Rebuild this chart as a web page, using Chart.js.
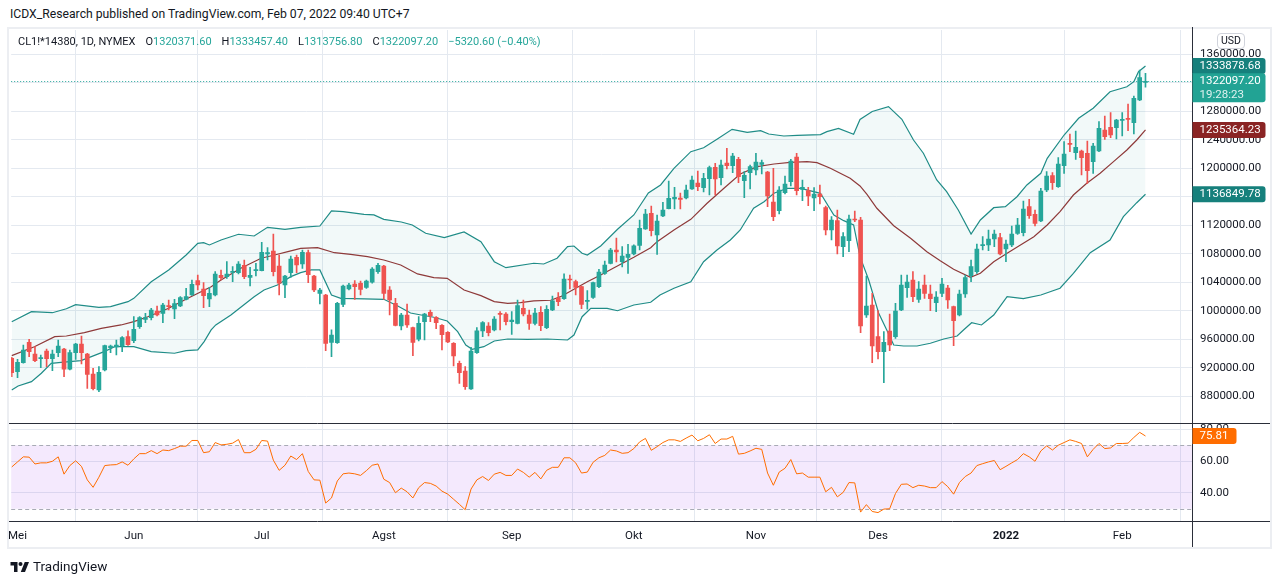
<!DOCTYPE html>
<html>
<head>
<meta charset="utf-8">
<script src="https://cdn.jsdelivr.net/npm/chart.js@4.4.0/dist/chart.umd.min.js"></script>
<style>
  html, body { margin: 0; padding: 0; background: #ffffff; }
  body { width: 1280px; height: 584px; position: relative; overflow: hidden;
         font-family: Roboto, "Noto Sans", sans-serif; color: #131722; }
  #title { position: absolute; left: 10px; top: 6px; font-size: 12.2px; line-height: 16px; white-space: nowrap; }
  #frame { position: absolute; left: 7px; top: 27px; width: 1261px; height: 518px; border: 2px solid #eceef2; }
  #wrap { position: absolute; left: 9px; top: 0; width: 1262px; height: 584px; overflow: hidden; }
  #wrap canvas { position: absolute; left: -9px; top: 0; }
  #legend { position: absolute; left: 18px; top: 34px; font-size: 11px; line-height: 16px; white-space: nowrap; }
  #legend .v { color: #26a69a; }
  #legend .g { display: inline-block; width: 10px; }
  #usd { position: absolute; left: 1217px; top: 33px; width: 26px; height: 14px; border: 1px solid #d1d4dc;
         border-radius: 4px; font-size: 10.5px; line-height: 14px; text-align: center; background: #fff; }
  #footer { position: absolute; left: 10px; top: 558px; height: 16px; font-size: 13.5px; line-height: 16px; white-space: nowrap; }
  #footer svg { vertical-align: -2px; margin-right: 4px; }
</style>
</head>
<body>
<div id="title">ICDX_Research published on TradingView.com, Feb 07, 2022 09:40 UTC+7</div>
<div id="frame"></div>
<div id="wrap"><canvas id="chart" width="1280" height="584"></canvas></div>
<div id="legend">CL1!*14380, 1D, NYMEX<span class="g"></span>O<span class="v">1320371.60</span><span class="g"></span>H<span class="v">1333457.40</span><span class="g"></span>L<span class="v">1313756.80</span><span class="g"></span>C<span class="v">1322097.20</span><span class="g"></span><span class="v">−5320.60 (−0.40%)</span></div>
<div id="usd">USD</div>
<div id="footer"><svg width="19" height="13" viewBox="0 0 36 26"><path d="M14 24H7V11H0V4h14v20zM29 24h-8.5l8-20H37l-8 20z" fill="#131722"/><circle cx="20" cy="8" r="4" fill="#131722"/></svg>TradingView</div>

<script>
// daily bars, Apr 30 2021 .. Feb 7 2022 (index = bar number)
const opens = [
  933300, 914600, 927200, 955700, 939400, 932800, 943600, 932800, 941200, 946400,
  917900, 941200, 953400, 939400, 911300, 888900, 916900, 948300, 949200, 951100,
  963700, 958100, 977700, 988000, 990400, 999700, 996400, 1007200, 1002500, 1006700,
  1016100, 1022200, 1042300, 1030600, 1016600, 1022200, 1049800, 1047900, 1054000, 1053500,
  1063800, 1047000, 1056300, 1056300, 1079700, 1083900, 1062900, 1036200, 1053500, 1075000,
  1065700, 1081600, 1048800, 1024500, 1022200, 955700, 955300, 1009100, 1030600, 1037600,
  1038600, 1032900, 1040000, 1054900, 1062900, 1029200, 1010500, 978700, 994100, 976300,
  960000, 984800, 997900, 990800, 979600, 969800, 954300, 926300, 915500, 890300,
  941200, 971700, 978700, 973100, 996400, 995500, 984800, 982400, 1003500, 994100,
  982400, 997900, 976300, 1001100, 1017500, 1017000, 1044200, 1040900, 1033900, 1013300,
  1018900, 1033900, 1052600, 1066600, 1085300, 1069000, 1075000, 1079700, 1091900, 1114800,
  1136800, 1106400, 1133000, 1143300, 1156900, 1158300, 1158300, 1170900, 1179400, 1172800,
  1185400, 1201300, 1186800, 1207400, 1203700, 1212600, 1182600, 1193900, 1197600, 1205600,
  1194800, 1152700, 1140500, 1165800, 1181200, 1215900, 1170500, 1168600, 1158300, 1163900,
  1144700, 1113400, 1126500, 1090000, 1098400, 1128800, 1127400, 994100, 1008100, 963700,
  942600, 971600, 963700, 1001100, 1032500, 1043200, 1016100, 1036200, 1023600, 1011400,
  1024500, 1032000, 1005800, 994100, 1023600, 1049300, 1054900, 1091400, 1092300, 1100800,
  1102600, 1086700, 1092300, 1108700, 1109600, 1146100, 1135400, 1126000, 1169500, 1189600,
  1174200, 1203700, 1235000, 1221900, 1224300, 1221000, 1209300, 1224300, 1253700, 1257500,
  1257000, 1267300, 1270100, 1264000, 1295800, 1320371.6
];
const highs = [
  934700, 931900, 952000, 960000, 949700, 938000, 946400, 945000, 959000, 947300,
  945000, 954300, 964600, 940300, 919300, 921600, 952000, 952000, 959000, 963700,
  971700, 991800, 991800, 996400, 1003500, 1006700, 1010500, 1015200, 1016100, 1019800,
  1031500, 1043200, 1050200, 1039500, 1032900, 1054900, 1057300, 1069000, 1061900, 1069000,
  1071300, 1061000, 1066600, 1096100, 1088600, 1107800, 1078300, 1049800, 1076900, 1078300,
  1085300, 1085300, 1049800, 1031500, 1023100, 973100, 1011900, 1036200, 1038600, 1042300,
  1041800, 1043200, 1060500, 1066600, 1063800, 1033900, 1017500, 996400, 1009500, 977300,
  991800, 996400, 1001100, 991800, 980500, 970700, 955300, 929500, 921600, 948700,
  976300, 984800, 983300, 991800, 998800, 997400, 998800, 1015200, 1015200, 1001100,
  1003500, 1005800, 1007200, 1020800, 1025500, 1051700, 1050200, 1043200, 1034800, 1028300,
  1040400, 1058200, 1069900, 1087700, 1102200, 1090000, 1093300, 1092400, 1127400, 1142400,
  1147100, 1134400, 1152200, 1182200, 1173300, 1165300, 1176600, 1189200, 1196200, 1192900,
  1203200, 1207000, 1211600, 1228000, 1221000, 1215400, 1195300, 1204600, 1221000, 1211600,
  1195700, 1199900, 1174200, 1189200, 1212600, 1221000, 1183600, 1173300, 1172800, 1176600,
  1147100, 1132100, 1141500, 1109700, 1134400, 1140100, 1131200, 1048800, 1024500, 1000200,
  970700, 995500, 1010500, 1050200, 1050200, 1054900, 1040900, 1050200, 1036200, 1026800,
  1045600, 1035700, 1006700, 1029200, 1050200, 1071300, 1093700, 1104000, 1113400, 1113400,
  1108700, 1099400, 1119000, 1129800, 1154100, 1156400, 1141500, 1171900, 1195300, 1193900,
  1214900, 1237400, 1248100, 1252300, 1225700, 1238300, 1235000, 1265400, 1273400, 1278100,
  1268700, 1278100, 1290200, 1301500, 1337900, 1333457.4
];
const lows = [
  907600, 906200, 926300, 935600, 928600, 920200, 921600, 916000, 935600, 907600,
  916900, 931900, 925300, 891200, 888900, 886500, 915500, 941200, 938000, 942700,
  951500, 955300, 975400, 983400, 987100, 992700, 983400, 1001100, 989000, 1005800,
  1015200, 1021700, 1029200, 1004400, 1005800, 1020800, 1043200, 1045600, 1040900, 1051600,
  1045100, 1034800, 1048800, 1055900, 1071300, 1048800, 1022200, 1018400, 1047000, 1053500,
  1059600, 1039500, 1026900, 1009500, 944100, 935600, 954300, 1005800, 1029200, 1016100,
  1022200, 1031500, 1038600, 1052600, 1016100, 994100, 978700, 973100, 976800, 937000,
  957600, 959000, 984800, 974900, 945000, 955300, 922500, 898200, 889800, 889800,
  940300, 963700, 964600, 971700, 973100, 980100, 967000, 981500, 992700, 974000,
  980100, 972100, 974900, 1000200, 1007200, 1016100, 1030600, 1022200, 1003000, 1002100,
  1017500, 1032500, 1051200, 1065700, 1068500, 1061500, 1052600, 1078300, 1085300, 1114300,
  1105000, 1079200, 1132100, 1142900, 1142900, 1142900, 1156900, 1170500, 1168600, 1166700,
  1162500, 1162500, 1176600, 1199000, 1193900, 1179800, 1158800, 1170900, 1190600, 1192000,
  1146100, 1126500, 1135900, 1163900, 1175100, 1162500, 1154600, 1147500, 1140500, 1149900,
  1106400, 1099400, 1079700, 1076000, 1083000, 1125100, 969300, 990800, 927200, 932400,
  899100, 944000, 961300, 1000200, 1018900, 1012800, 1011900, 1017500, 1000200, 998800,
  1019800, 1003400, 951100, 992700, 1018900, 1040900, 1052600, 1085300, 1084400, 1090000,
  1078300, 1068900, 1090000, 1107300, 1105000, 1129800, 1119000, 1125100, 1167200, 1170500,
  1173300, 1192900, 1223300, 1212600, 1190600, 1178900, 1192900, 1223300, 1240600, 1243000,
  1241100, 1245300, 1252800, 1248100, 1294900, 1313756.8
];
const closes = [
  913200, 927700, 945000, 942700, 930000, 934200, 932800, 939400, 950600, 917900,
  941200, 953400, 941200, 910800, 890700, 913600, 951100, 950600, 952000, 962300,
  952500, 974000, 990400, 990400, 1001100, 994100, 1008100, 1005800, 1010000, 1018400,
  1019800, 1037100, 1036200, 1021200, 1024500, 1051600, 1046500, 1051600, 1054900, 1065700,
  1047900, 1049800, 1057300, 1082100, 1081600, 1054900, 1038600, 1048800, 1072700, 1064300,
  1082100, 1050700, 1029200, 1029200, 954300, 966000, 1010500, 1034800, 1036200, 1033900,
  1030100, 1041800, 1058700, 1063800, 1024500, 1015200, 979600, 994100, 980100, 955700,
  982400, 995500, 992700, 983300, 966500, 956200, 936600, 913200, 893500, 943600,
  971700, 983300, 969300, 988500, 995000, 984800, 987100, 1007200, 995500, 982400,
  996900, 979100, 1002100, 1013800, 1012800, 1044600, 1043200, 1032900, 1009100, 1014200,
  1039500, 1054500, 1064300, 1085300, 1082500, 1076900, 1079300, 1091000, 1115700, 1135900,
  1112500, 1126000, 1141500, 1157800, 1159200, 1156400, 1169500, 1183600, 1174200, 1185900,
  1200900, 1185000, 1204600, 1203700, 1217300, 1188200, 1190100, 1202300, 1208800, 1207900,
  1161100, 1132100, 1169500, 1178000, 1210200, 1168600, 1173300, 1161100, 1163900, 1160200,
  1113400, 1127400, 1090900, 1104000, 1128800, 1127400, 978700, 1006700, 950600, 942600,
  955700, 952000, 999700, 1036200, 1040400, 1019800, 1030600, 1024500, 1017000, 1019400,
  1037600, 1015100, 986100, 1023600, 1046500, 1061900, 1086700, 1092300, 1100800, 1107800,
  1079700, 1093700, 1107800, 1120400, 1142900, 1133500, 1122700, 1168100, 1189200, 1179800,
  1206000, 1220100, 1233600, 1229400, 1214900, 1196700, 1231300, 1256100, 1244400, 1246700,
  1267800, 1268700, 1268700, 1298200, 1327417.8, 1322097.2
];

// Bollinger bands: [bar index, value]
const bbUpper = [
  [0, 984700], [3.4, 998700], [7, 997300], [9.4, 1002900], [11, 1008600], [15, 1004900], [17, 1005800],
  [20, 1012800], [21, 1017500], [24, 1040800], [27, 1057300], [30, 1078300], [32, 1094700], [33, 1095600],
  [34, 1092400], [36, 1099400], [39, 1107400], [41.7, 1105000], [44, 1117200], [47, 1114400], [49.7, 1117200],
  [53, 1119000], [55, 1140100], [57, 1139100], [60.6, 1135400], [62.3, 1134500], [64, 1128400], [67, 1124600],
  [68.9, 1120400], [71.2, 1108800], [74.4, 1102600], [77.8, 1110600], [80.7, 1097000], [83, 1068900],
  [85, 1060500], [89.8, 1066700], [91.5, 1065700], [93.8, 1073700], [95.6, 1090000], [96.7, 1090900],
  [98.1, 1080700], [99, 1078300], [101.3, 1090900], [104.2, 1114400], [107, 1134500], [109.5, 1165300],
  [111.6, 1176600], [113.9, 1200000], [116.8, 1223300], [119, 1228900], [121.3, 1240700], [123.9, 1254700],
  [126.5, 1250500], [128.8, 1252800], [130.2, 1248100], [132.8, 1245300], [135.1, 1246300], [139.1, 1247200],
  [140.2, 1251400], [142.2, 1256100], [144.8, 1247700], [145.9, 1268500], [148, 1279700], [150.8, 1286500],
  [153.1, 1268800], [155.1, 1239700], [156.8, 1221100], [159.1, 1183600], [160.8, 1167200], [162.8, 1141500],
  [165, 1107800], [166.6, 1127400], [168.9, 1144700], [170.9, 1146100], [172.9, 1160100], [174.6, 1176600],
  [177, 1193000], [178.1, 1214000], [181, 1246700], [183.5, 1270200], [186, 1284200], [188.9, 1307500],
  [191.8, 1314500], [193, 1321500], [193.8, 1335600], [195, 1343600]
];
const bbBasis = [
  [0, 937000], [3.9, 949600], [7.4, 963700], [9.4, 964600], [12.5, 969300], [15.4, 975400], [18.8, 980100],
  [21, 984700], [23.4, 991700], [27, 1003500], [30.3, 1017500], [34.3, 1033800], [36, 1043200], [39.4, 1059700],
  [42.9, 1073700], [45.2, 1078300], [47.5, 1083000], [49.7, 1087700], [52.6, 1088600], [55.5, 1081500],
  [58.3, 1079300], [61.2, 1076000], [64, 1071300], [66.9, 1064300], [69.8, 1051700], [72.6, 1046500],
  [74.9, 1045600], [77.8, 1029200], [80.7, 1021200], [83, 1012800], [85.3, 1010500], [87.5, 1011400],
  [89.8, 1013800], [92.7, 1014800], [94.4, 1019800], [96.7, 1030200], [99, 1040800], [101.3, 1050200],
  [103.6, 1060500], [107, 1075100], [109.9, 1088600], [111, 1097000], [113.9, 1113400], [116.8, 1128400],
  [119.6, 1150900], [122.5, 1171900], [125.3, 1192000], [128.2, 1202300], [131.1, 1206000], [133.9, 1208400],
  [136.8, 1209300], [138.5, 1207900], [140.8, 1200000], [144.2, 1186000], [145.9, 1175200], [147.1, 1163500],
  [148.8, 1143900], [151.7, 1119400], [154.6, 1101800], [157.4, 1083000], [159.7, 1070300], [162, 1058200],
  [164.9, 1047000], [166.6, 1052600], [168.9, 1068900], [171.2, 1080700], [173.5, 1092400], [175.8, 1104000],
  [178.1, 1120400], [180.3, 1139100], [182.6, 1162500], [184.9, 1178900], [187.2, 1193000], [189.5, 1209300],
  [191.8, 1225700], [193.5, 1239700], [195, 1253800]
];
const bbLower = [
  [0, 888800], [1.1, 894500], [3.4, 900500], [5.1, 912300], [6.8, 926300], [8.5, 927700], [11.9, 930000],
  [13.7, 935600], [15.9, 942600], [17.7, 949600], [21, 949600], [24, 942600], [28, 940400], [30, 944000],
  [32, 945000], [33.1, 956700], [34.3, 973100], [35.1, 980100], [37.7, 994100], [41.7, 1019800], [43.4, 1029200],
  [45.7, 1036200], [48, 1047900], [49.7, 1053500], [51.5, 1057300], [53, 1057300], [55, 1022200], [56.6, 1017500],
  [60.6, 1016600], [64, 1016100], [66.4, 1006700], [68.6, 996900], [70.4, 994100], [72.6, 990900], [74.9, 985700],
  [76.7, 970700], [78.1, 952000], [79.2, 946000], [81.2, 949600], [83, 957600], [85.3, 960400], [88.7, 960000],
  [92.1, 960400], [95.6, 959000], [96.7, 966000], [98.1, 991700], [99.6, 1003500], [102.4, 1003500],
  [104.2, 1000100], [107, 1008100], [109.9, 1011900], [111.5, 1022200], [113.9, 1031600], [116.8, 1040800],
  [119, 1068900], [121.3, 1085300], [123.6, 1099400], [125.3, 1113400], [127.6, 1143900], [129.4, 1153100],
  [131.1, 1164900], [133.4, 1171900], [135.7, 1171900], [139.1, 1164900], [141.4, 1134500], [143.1, 1126500],
  [144.8, 1120400], [145.9, 1075900], [147.4, 1043200], [149.1, 996900], [150.5, 973100], [151.7, 952000],
  [153.4, 950600], [155.7, 950600], [158, 954400], [160.3, 960400], [162.6, 964600], [163.7, 973100],
  [165.1, 983300], [166.8, 980100], [168.9, 994100], [171.2, 1019800], [174, 1017000], [177, 1022200],
  [180.3, 1031600], [182.6, 1052600], [185.5, 1081500], [188.9, 1099400], [191.2, 1132100], [193.5, 1151700],
  [195, 1163500]
];

const rsi = [
  56.3, 59.5, 62.7, 62.5, 58.2, 58.9, 58.9, 59.9, 62.7, 51.8,
  57.2, 60.2, 56.7, 48.2, 43.5, 49.9, 57.2, 57.6, 57.8, 59.5,
  57.4, 61.4, 64.7, 64.7, 66.6, 64.7, 67.0, 66.6, 67.9, 69.4,
  69.4, 73.0, 73.0, 65.3, 65.9, 71.7, 70.2, 70.6, 71.3, 73.6,
  65.3, 65.3, 67.4, 73.0, 72.6, 60.6, 54.2, 57.4, 63.2, 61.0,
  64.7, 53.5, 48.2, 48.0, 33.6, 36.8, 47.5, 52.0, 52.5, 52.0,
  51.0, 54.0, 57.4, 58.2, 48.6, 46.5, 40.1, 43.0, 40.7, 36.8,
  43.3, 46.5, 46.0, 44.3, 41.1, 39.2, 36.0, 32.8, 29.4, 42.4,
  48.2, 50.3, 47.8, 51.8, 52.9, 51.0, 51.0, 55.0, 52.9, 49.9,
  52.9, 48.8, 54.2, 56.1, 56.1, 62.1, 62.1, 58.9, 52.5, 53.1,
  59.3, 62.1, 63.6, 67.0, 66.4, 64.9, 65.3, 67.9, 72.1, 74.3,
  66.8, 69.1, 71.7, 73.4, 73.4, 72.4, 74.5, 76.4, 72.8, 74.3,
  76.6, 71.1, 73.9, 73.9, 75.6, 64.4, 64.9, 66.4, 68.1, 67.4,
  52.5, 44.8, 53.1, 55.5, 61.0, 52.0, 52.5, 49.9, 49.9, 49.9,
  40.7, 43.5, 37.5, 40.3, 46.5, 46.3, 27.9, 32.6, 28.3, 27.6,
  29.8, 30.0, 39.6, 45.4, 45.6, 43.3, 44.8, 44.3, 43.3, 43.3,
  47.1, 43.9, 39.2, 46.5, 50.3, 52.5, 57.2, 58.4, 59.5, 60.4,
  54.6, 56.7, 58.9, 61.0, 64.7, 62.7, 59.9, 66.4, 69.6, 67.0,
  70.0, 71.7, 73.4, 72.4, 71.1, 62.7, 67.4, 71.1, 67.9, 68.3,
  71.1, 71.1, 71.3, 74.9, 78.1, 75.81
];

// axis ticks
const monthTickIdx = [1, 21, 43, 64, 86, 107, 128, 149, 171, 191];
const monthTickLabels = ['Mei', 'Jun', 'Jul', 'Agst', 'Sep', 'Okt', 'Nov', 'Des', '2022', 'Feb'];
const priceTicks = [880000, 920000, 960000, 1000000, 1040000, 1080000, 1120000, 1160000,
                    1200000, 1240000, 1280000, 1320000, 1360000];
const rsiTicks = [40, 60, 80];
const rsiLevels = [70, 30];

// price tags on the right axis
const tagUpper = '1333878.68';
const tagClose = '1322097.20';
const tagTimer = '19:28:23';
const tagBasis = '1235364.23';
const tagLower = '1136849.78';
const tagRsi = '75.81';

const upColor = '#26a69a';
const downColor = '#ef5350';
const bandColor = '#1f8c87';
const basisColor = '#8e3a3a';
const rsiColor = '#ff6d00';
const gridColor = '#e4e9f0';
const lineDark = '#2a2e39';
const FONT = 'Roboto, "Noto Sans", sans-serif';

Chart.defaults.font.family = FONT;
Chart.defaults.color = '#131722';

const candleColors = opens.map((o, i) => closes[i] >= o ? upColor : downColor);

function drawTag(ctx, x, y, w, h, bg, lines) {
  ctx.fillStyle = bg;
  ctx.beginPath();
  if (ctx.roundRect) ctx.roundRect(x, y, w, h, [0, 3, 3, 0]); else ctx.rect(x, y, w, h);
  ctx.fill();
  ctx.font = '11.5px ' + FONT;
  ctx.textBaseline = 'middle';
  ctx.textAlign = 'left';
  lines.forEach((t, k) => {
    ctx.fillStyle = k === 0 ? '#ffffff' : 'rgba(255,255,255,0.85)';
    ctx.fillText(t, x + 7, y + 8 + k * 13.5);
  });
}

const panePlugin = {
  id: 'panes',
  beforeDatasetsDraw(chart) {
    const {ctx, chartArea} = chart;
    const r = chart.scales.rsi;
    const yTop = r.getPixelForValue(rsiLevels[0]);
    const yBot = r.getPixelForValue(rsiLevels[1]);
    ctx.save();
    ctx.fillStyle = 'rgba(150, 40, 235, 0.1)';
    ctx.fillRect(chartArea.left, yTop, chartArea.width, yBot - yTop);
    ctx.strokeStyle = '#a8abb5';
    ctx.lineWidth = 1;
    ctx.setLineDash([4, 3]);
    [yTop, yBot].forEach(y => {
      ctx.beginPath();
      ctx.moveTo(chartArea.left, Math.round(y) + 0.5);
      ctx.lineTo(chartArea.right, Math.round(y) + 0.5);
      ctx.stroke();
    });
    // last price line
    const yc = Math.round(chart.scales.y.getPixelForValue(closes[closes.length - 1])) + 0.5;
    ctx.strokeStyle = upColor;
    ctx.setLineDash([1, 2]);
    ctx.beginPath();
    ctx.moveTo(chartArea.left, yc);
    ctx.lineTo(chartArea.right, yc);
    ctx.stroke();
    ctx.restore();
  },
  afterDraw(chart) {
    const {ctx, chartArea} = chart;
    const y = chart.scales.y;
    const r = chart.scales.rsi;
    ctx.save();
    ctx.strokeStyle = lineDark;
    ctx.lineWidth = 1;
    const sep = Math.round(r.top) + 0.5;
    const bot = Math.round(chartArea.bottom) + 0.5;
    const rx = Math.round(chartArea.right) + 0.5;
    ctx.beginPath();
    ctx.moveTo(0, sep); ctx.lineTo(1270, sep);
    ctx.moveTo(0, bot); ctx.lineTo(1270, bot);
    ctx.moveTo(rx, 27); ctx.lineTo(rx, 547);
    ctx.stroke();

    const x0 = chartArea.right + 0.5;
    const last = a => a[a.length - 1][1];
    drawTag(ctx, x0, y.getPixelForValue(last(bbUpper)) - 8, 73, 16, '#16807c', [tagUpper]);
    drawTag(ctx, x0, y.getPixelForValue(closes[closes.length - 1]) - 8, 73, 29, '#22a394', [tagClose, tagTimer]);
    drawTag(ctx, x0, y.getPixelForValue(last(bbBasis)) - 8, 73, 16, '#8a2424', [tagBasis]);
    drawTag(ctx, x0, y.getPixelForValue(last(bbLower)) - 8, 73, 16, '#16807c', [tagLower]);
    drawTag(ctx, x0, r.getPixelForValue(rsi[rsi.length - 1]) - 8, 44, 16, rsiColor, [tagRsi]);
    ctx.restore();
  }
};

const lineOpts = { type: 'line', pointRadius: 0, borderWidth: 1.2, tension: 0, yAxisID: 'y' };

new Chart(document.getElementById('chart'), {
  type: 'bar',
  data: {
    datasets: [
      { label: 'body', data: opens.map((o, i) => ({x: i, y: [o, closes[i]]})),
        backgroundColor: candleColors, barThickness: 4, minBarLength: 1, grouped: false, order: 1, yAxisID: 'y' },
      { label: 'wick', data: opens.map((o, i) => ({x: i, y: [lows[i], highs[i]]})),
        backgroundColor: candleColors, barThickness: 1, grouped: false, order: 2, yAxisID: 'y' },
      { ...lineOpts, label: 'upper', data: bbUpper.map(([x, v]) => ({x, y: v})), borderColor: bandColor,
        fill: '+2', backgroundColor: 'rgba(0, 128, 128, 0.05)', order: 6 },
      { ...lineOpts, label: 'basis', data: bbBasis.map(([x, v]) => ({x, y: v})), borderColor: basisColor,
        fill: false, order: 5 },
      { ...lineOpts, label: 'lower', data: bbLower.map(([x, v]) => ({x, y: v})), borderColor: bandColor,
        fill: false, order: 5 },
      { ...lineOpts, label: 'RSI', data: rsi.map((v, i) => ({x: i, y: v})), borderColor: rsiColor,
        borderWidth: 1, fill: false, yAxisID: 'rsi', order: 3 }
    ]
  },
  options: {
    responsive: false,
    animation: false,
    events: [],
    layout: { padding: { left: 10, right: 10, top: 30, bottom: 36 } },
    plugins: { legend: { display: false }, tooltip: { enabled: false } },
    scales: {
      x: {
        type: 'linear', position: 'bottom', min: -0.09, max: 203.0, offset: false,
        afterBuildTicks: s => { s.ticks = monthTickIdx.map(v => ({value: v})); },
        afterFit: s => { s.height = 27; },
        ticks: {
          autoSkip: false, maxRotation: 0, padding: 8, color: '#131722',
          callback: (v, i) => monthTickLabels[i],
          font: c => ({ family: FONT, size: 11.5, weight: monthTickLabels[c.index] === '2022' ? 'bold' : 'normal' })
        },
        grid: { color: gridColor, drawTicks: false },
        border: { display: false }
      },
      y: {
        type: 'linear', position: 'right', stack: 'panes', stackWeight: 393,
        min: 842500, max: 1394100,
        afterFit: s => { s.width = 78; },
        afterBuildTicks: s => { s.ticks = priceTicks.map(v => ({value: v})); },
        ticks: { autoSkip: false, padding: 8, color: '#131722',
                 font: { size: 11.5 }, callback: v => v.toFixed(2) },
        grid: { color: gridColor, drawTicks: false },
        border: { display: false }
      },
      rsi: {
        type: 'linear', position: 'right', stack: 'panes', stackWeight: 98,
        min: 22.3, max: 84.0,
        afterFit: s => { s.width = 78; },
        afterBuildTicks: s => { s.ticks = rsiTicks.map(v => ({value: v})); },
        ticks: { autoSkip: false, padding: 8, color: '#131722', font: { size: 11.5 }, callback: v => v.toFixed(2) },
        grid: { color: gridColor, drawTicks: false },
        border: { display: false }
      }
    }
  },
  plugins: [panePlugin]
});
</script>
</body>
</html>
